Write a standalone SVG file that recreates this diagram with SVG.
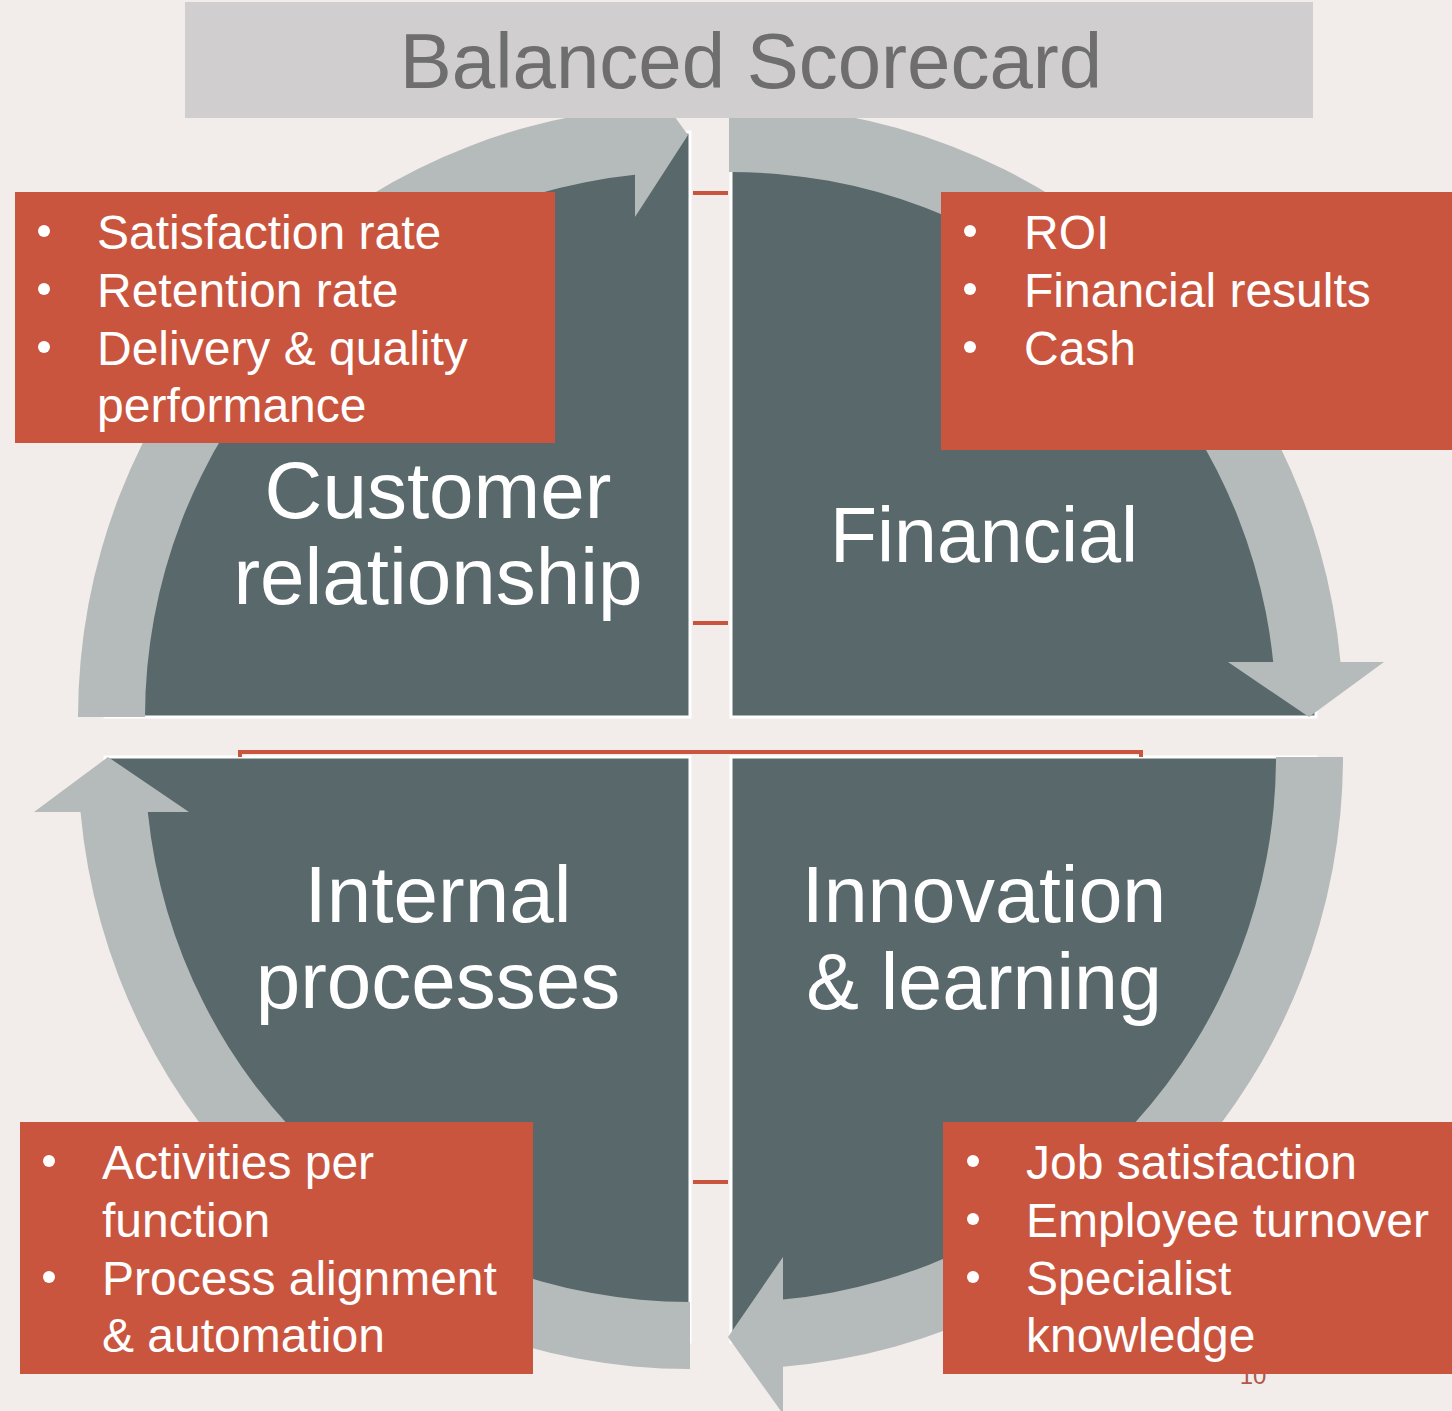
<svg xmlns="http://www.w3.org/2000/svg" width="1452" height="1411" viewBox="0 0 1452 1411">
<style>
.quad{fill:#58686b;stroke:#ffffff;stroke-width:3;stroke-linejoin:miter}
.arc{fill:#b5bbba}
.box{fill:#c9553f}
.tick{fill:#c9553f}
.lbl{font-family:"Liberation Sans",Arial,sans-serif;font-size:80px;fill:#ffffff;text-anchor:middle}
.bt{font-family:"Liberation Sans",Arial,sans-serif;font-size:48px;fill:#ffffff}
.dot{fill:#ffffff}
</style>
<rect x="0" y="0" width="1452" height="1411" fill="#f2edea"/>

<g id="quad-customer">
<path class="quad" d="M690,717 L105,717 A585,585 0 0 1 690,132 Z"/>
<text class="lbl" x="438" y="518">Customer</text>
<text class="lbl" x="438" y="604">relationship</text>
</g>
<g id="quad-financial">
<path class="quad" d="M731,717 L731,132 A585,585 0 0 1 1316,717 Z"/>
<text class="lbl" x="984" y="562" style="font-size:77px">Financial</text>
</g>
<g id="quad-innovation">
<path class="quad" d="M731,757 L1316,757 A585,585 0 0 1 731,1342 Z"/>
<text class="lbl" x="984" y="922" style="font-size:79px">Innovation</text>
<text class="lbl" x="984" y="1009" style="font-size:79px">&amp; learning</text>
</g>
<g id="quad-internal">
<path class="quad" d="M690,757 L690,1342 A585,585 0 0 1 105,757 Z"/>
<text class="lbl" x="438" y="922">Internal</text>
<text class="lbl" x="438" y="1008">processes</text>
</g>

<g id="connectors">
<path class="arc" d="M78,717 A612,612 0 0 1 635,107.5 L635,62 L688,135 L635,217 L635,174.8 A545,545 0 0 0 145,717 Z"/>
<path class="arc" d="M729,105 A612,612 0 0 1 1340.5,662 L1384,662 L1309,717 L1228,662 L1273.2,662 A545,545 0 0 0 729,172 Z"/>
<path class="arc" d="M1343,757 A612,612 0 0 1 783,1366.8 L783,1414 L728,1337 L783,1257 L783,1299.5 A545,545 0 0 0 1276,757 Z"/>
<path class="arc" d="M690,1369 A612,612 0 0 1 80.5,812 L34,812 L108,757 L189,812 L147.8,812 A545,545 0 0 0 690,1302 Z"/>
<path d="M240,757 V752 H1141 V757" fill="none" stroke="#c9553f" stroke-width="4"/>
<rect class="tick" x="693" y="191" width="35" height="4"/>
<rect class="tick" x="693" y="621" width="35" height="4"/>
<rect class="tick" x="693" y="1180" width="35" height="4"/>
</g>

<text x="1253" y="1384" font-family="'Liberation Sans',Arial,sans-serif" font-size="24" fill="#b0584a" text-anchor="middle">10</text>

<g id="box-customer">
<rect class="box" x="15" y="192" width="540" height="251"/>
<circle class="dot" cx="44" cy="231" r="6"/>
<circle class="dot" cx="44" cy="289" r="6"/>
<circle class="dot" cx="44" cy="347" r="6"/>
<text class="bt" x="97" y="249">Satisfaction rate</text>
<text class="bt" x="97" y="307">Retention rate</text>
<text class="bt" x="97" y="365">Delivery &amp; quality</text>
<text class="bt" x="97" y="422">performance</text>
</g>
<g id="box-financial">
<rect class="box" x="941" y="192" width="511" height="258"/>
<circle class="dot" cx="970" cy="231" r="6"/>
<circle class="dot" cx="970" cy="289" r="6"/>
<circle class="dot" cx="970" cy="347" r="6"/>
<text class="bt" x="1024" y="249">ROI</text>
<text class="bt" x="1024" y="307">Financial results</text>
<text class="bt" x="1024" y="365">Cash</text>
</g>
<g id="box-internal">
<rect class="box" x="20" y="1122" width="513" height="252"/>
<circle class="dot" cx="49" cy="1161" r="6"/>
<circle class="dot" cx="49" cy="1277" r="6"/>
<text class="bt" x="102" y="1179">Activities per</text>
<text class="bt" x="102" y="1237">function</text>
<text class="bt" x="102" y="1295">Process alignment</text>
<text class="bt" x="102" y="1352">&amp; automation</text>
</g>
<g id="box-innovation">
<rect class="box" x="943" y="1122" width="509" height="252"/>
<circle class="dot" cx="973" cy="1161" r="6"/>
<circle class="dot" cx="973" cy="1219" r="6"/>
<circle class="dot" cx="973" cy="1277" r="6"/>
<text class="bt" x="1026" y="1179">Job satisfaction</text>
<text class="bt" x="1026" y="1237">Employee turnover</text>
<text class="bt" x="1026" y="1295">Specialist</text>
<text class="bt" x="1026" y="1352">knowledge</text>
</g>

<g id="title">
<rect x="185" y="2" width="1128" height="116" fill="#d0cecf"/>
<text x="751" y="88" font-family="'Liberation Sans',Arial,sans-serif" font-size="78" fill="#6e6e6e" text-anchor="middle">Balanced Scorecard</text>
</g>
</svg>
